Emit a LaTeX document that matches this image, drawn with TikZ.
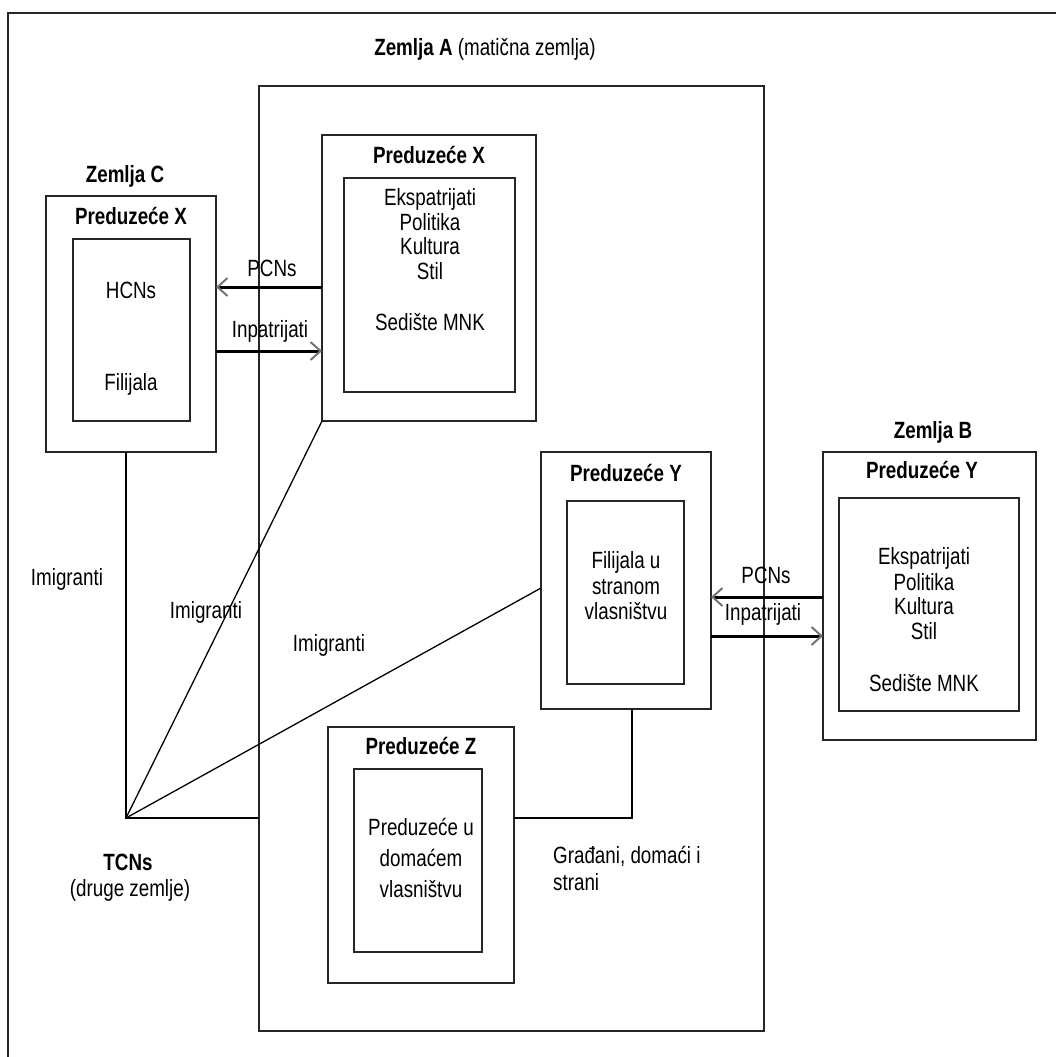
\documentclass[tikz,border=0pt]{standalone}
\usepackage{fontspec}
\setmainfont{Liberation Sans}[FakeStretch=0.8]
\usetikzlibrary{arrows.meta,calc}

\tikzset{
  frame/.style={draw=black!85, line width=1.4pt, inner sep=0pt, outer sep=0pt, anchor=north west},
  txt/.style={inner sep=0pt, anchor=base, font=\fontsize{23.5}{26}\selectfont},
  btxt/.style={txt, font=\fontsize{23.5}{26}\selectfont\bfseries},
  link/.style={draw=black, line width=1.3pt},
  flow/.style={draw=black, line width=3pt,
    -{Straight Barb[length=10pt,width=18pt,line width=2pt,color=black!55]}},
}

\begin{document}
\begin{tikzpicture}[x=1pt,y=-1pt]
\useasboundingbox (0,0) rectangle (1056,1057);

% outer frame (only its top and left edges fall inside the page)
\draw[line width=1.4pt, draw=black!85] (1060,13) -- (8,13) -- (8,1060);

% country A
\node[frame, minimum width=505, minimum height=945] (ca) at (259,86) {};
\node[txt] (calbl) at (485,56) {\textbf{Zemlja A} (matična zemlja)};

% country C, company X subsidiary
\node[btxt] (cclbl) at (125,182) {Zemlja C};
\node[frame, minimum width=170, minimum height=256] (cxo) at (46,196) {};
\node[frame, minimum width=117, minimum height=182] (cxi) at (73,239) {};
\node[btxt] (cxt) at (131,224) {Preduzeće X};
\node[txt] (cx1) at (131,298) {HCNs};
\node[txt] (cx2) at (131,390) {Filijala};

% company X headquarters in A
\node[frame, minimum width=214, minimum height=286] (axo) at (322,135) {};
\node[frame, minimum width=171, minimum height=214] (axi) at (344,178) {};
\node[btxt] (axt) at (429,163) {Preduzeće X};
\node[txt] (ax1) at (430,205) {Ekspatrijati};
\node[txt] (ax2) at (430,230) {Politika};
\node[txt] (ax3) at (430,254) {Kultura};
\node[txt] (ax4) at (430,279) {Stil};
\node[txt] (ax5) at (430,330) {Sedište MNK};

% company Y subsidiary in A
\node[frame, minimum width=170, minimum height=257] (ayo) at (541,452) {};
\node[frame, minimum width=117, minimum height=183] (ayi) at (567,501) {};
\node[btxt] (ayt) at (626,481) {Preduzeće Y};
\node[txt] (ay1) at (626,568) {Filijala u};
\node[txt] (ay2) at (626,594) {stranom};
\node[txt] (ay3) at (626,619) {vlasništvu};

% country B, company Y headquarters
\node[btxt] (cblbl) at (933,438) {Zemlja B};
\node[frame, minimum width=213, minimum height=288] (byo) at (823,452) {};
\node[frame, minimum width=180, minimum height=213] (byi) at (839,498) {};
\node[btxt] (byt) at (922,478) {Preduzeće Y};
\node[txt] (by1) at (924,564) {Ekspatrijati};
\node[txt] (by2) at (924,590) {Politika};
\node[txt] (by3) at (924,614) {Kultura};
\node[txt] (by4) at (924,639) {Stil};
\node[txt] (by5) at (924,691) {Sedište MNK};

% company Z in A
\node[frame, minimum width=186, minimum height=256] (azo) at (328,727) {};
\node[frame, minimum width=128, minimum height=183] (azi) at (354,769) {};
\node[btxt] (azt) at (421,754) {Preduzeće Z};
\node[txt] (az1) at (421,835) {Preduzeće u};
\node[txt] (az2) at (421,866) {domaćem};
\node[txt] (az3) at (421,897) {vlasništvu};

% flows between headquarters and subsidiaries
\draw[flow] (axo.west |- 0,287) -- (cxo.east |- 0,287);
\node[txt] (pcn1) at (272,276) {PCNs};
\draw[flow] (cxo.east |- 0,351) -- (axo.west |- 0,351);
\node[txt] (inp1) at (270,337) {Inpatrijati};
\draw[flow] (byo.west |- 0,597) -- (ayo.east |- 0,597);
\node[txt] (pcn2) at (766,583) {PCNs};
\draw[flow] (ayo.east |- 0,636) -- (byo.west |- 0,636);
\node[txt] (inp2) at (763,620) {Inpatrijati};

% third-country nationals
\coordinate (tcn) at (126,818);
\node[btxt] (tcnt) at (128,870) {TCNs};
\node[txt] (tcns) at (130,896) {(druge zemlje)};
\draw[link] (tcn |- cxo.south) -- (tcn) -- (tcn -| ca.west);
\draw[link] (tcn) -- (axo.south west);
\draw[link] (tcn) -- (ayo.west |- 0,588);
\node[txt] (im1) at (67,585) {Imigranti};
\node[txt] (im2) at (206,618) {Imigranti};
\node[txt] (im3) at (329,651) {Imigranti};

% citizens link between Z and Y
\coordinate (yz) at (632,818);
\draw[link] (azo.east |- yz) -- (yz) -- (yz |- ayo.south);
\node[txt, anchor=base west] (gr1) at (553,863) {Građani, domaći i};
\node[txt, anchor=base west] (gr2) at (553,890) {strani};
\end{tikzpicture}
\end{document}
